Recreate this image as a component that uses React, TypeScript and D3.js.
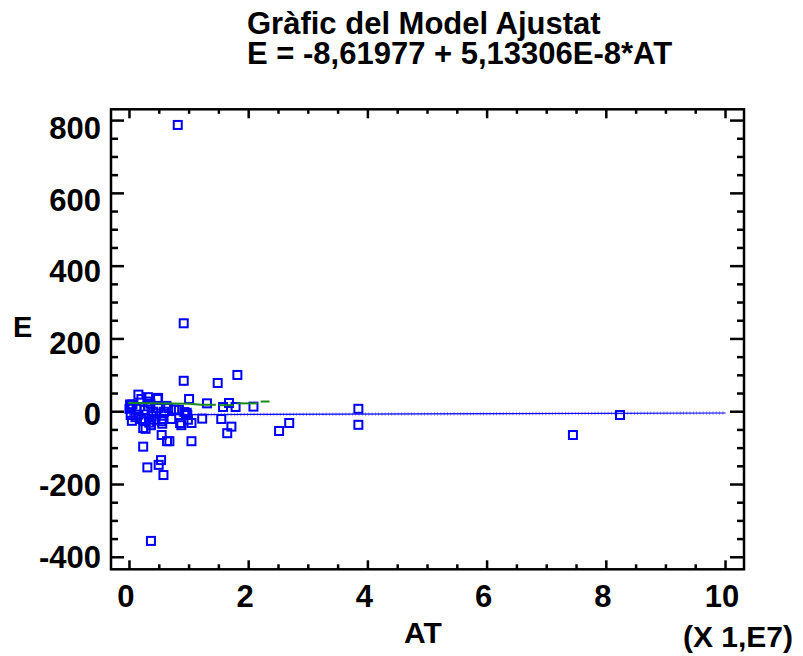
import React from "react";
import * as d3 from "d3";

// ---- data (AT in units of 1e7) ----
const titleLine1 = "Gràfic del Model Ajustat";
const titleLine2 = "E = -8,61977 + 5,13306E-8*AT";
const xLabel = "AT";
const yLabel = "E";
const xScaleNote = "(X 1,E7)";

const atValues = [
  0.81, 0.91, 0.91, 1.48, 1.81, 1.0, 1.3, 1.67, 1.57, 1.78, 2.08, 1.22, 1.54, 1.04, 0.87, 1.71,
  1.64, 2.51, 2.68, 0.54, 0.63, 0.67, 1.04, 0.23, 0.53, 0.3, 0.49, 0.57, 0.36, 3.84, 3.84, 7.44,
  8.23, 0.83, 0.92, 0.95, 0.97, 0.7, 0.55, 0.57, 0.47, 0.31, 0.3, 0.2, 0.05, 0.0, 0.02, 0.04,
  0.62, 0.75, 0.27, 0.36, 0.01, 0.03, 0.15, 0.48, 0.65, 0.96, 0.15, 0.26, 0.37, 0.23, 0.54, 0.85,
  0.98, 0.48, 0.31, 0.4, 0.45, 0.25, 0.35, 0.12, 0.58, 0.42, 0.33, 0.2, 0.1,
];
const eValues = [
  788, 243, 85, 79, 101, 35, 23, 24, 13, 13, 14, -19, -20, -31, -37, -41,
  -59, -53, -31, -64, -81, -81, -81, -96, -133, -153, -146, -174, -355, 8, -36, -64,
  -9, 5, -1, -6, -9, -20, -33, -20, 35, 40, 28, 35, 20, 8, -9, -25,
  16, 6, -47, -37, 20, 15, 47, 38, 10, -3, -8, -26, -12, -45, -26, -31,
  -22, 10, 15, 0, -5, 5, 22, 8, 0, -22, -30, -20, -15,
];

// fitted model (from the title)
const fitIntercept = -8.61977;
const fitSlopePer1e7 = 5.13306e-8 * 1e7;
const fitRange = [0, 10];

// green band pieces (x, y)
const greenPieces = [
  [[-0.02, 24], [1.0, 22], [1.2, 19], [1.45, 19]],
  [[1.5, 18], [1.75, 18]],
  [[1.8, 23], [2.15, 23]],
  [[2.2, 28], [2.35, 28]],
];

const xMajorTicks = [0, 2, 4, 6, 8, 10];
const yMajorTicks = [-400, -200, 0, 200, 400, 600, 800];

export default function App() {
  const left = 111, right = 744, top = 109.3, bottom = 569.3;
  const x = d3.scaleLinear().domain([-0.31, 10.31]).range([left, right]);
  const y = d3.scaleLinear().domain([-433, 831]).range([bottom, top]);
  const yLab = d3.scaleLinear().domain([-400, 800]).range([556.7, 128.3]);

  const xMinor = d3.range(0, 10.001, 0.5);
  const yMinor = d3.range(-400, 800.001, 50);

  const line = d3.line<number[]>().x((d) => x(d[0])).y((d) => y(d[1]));
  const fitPts = fitRange.map((v) => [v, fitIntercept + fitSlopePer1e7 * v]);
  const fitHatch = d3.range(fitRange[0], fitRange[1] + 0.0001, 0.055);

  const font = "'Liberation Sans', Arial, Helvetica, sans-serif";
  const blue = "#0000ff";

  return (
    <svg width={803} height={656} style={{ position: "absolute", left: 0, top: 0, background: "#fff" }}>
      <rect width={803} height={656} fill="#fff" />
      <g fontFamily={font} fontWeight="bold" fill="#000">
        <text x={247} y={33.5} fontSize={31}>{titleLine1}</text>
        <text x={247} y={63.5} fontSize={31}>{titleLine2}</text>
      </g>

      {/* fitted line */}
      <path d={line(fitPts) || ""} stroke={blue} strokeWidth={1.2} fill="none" />
      {fitHatch.map((v, i) => {
        const yy = y(fitIntercept + fitSlopePer1e7 * v);
        return <line key={"h" + i} x1={x(v)} x2={x(v)} y1={yy - 1.8} y2={yy + 1.8} stroke={blue} strokeWidth={0.6} opacity={0.6} />;
      })}

      {/* points */}
      {atValues.map((a, i) => (
        <rect key={"p" + i} x={x(a) - 4} y={y(eValues[i]) - 4} width={8} height={8} fill="none" stroke={blue} strokeWidth={2} />
      ))}

      {/* green band (drawn over the points) */}
      {greenPieces.map((p, i) => (
        <path key={"g" + i} d={line(p as number[][]) || ""} stroke="#1a8a1a" strokeWidth={2} fill="none" />
      ))}

      {/* frame */}
      <rect x={left} y={top} width={right - left} height={bottom - top} fill="none" stroke="#000" strokeWidth={2.5} />

      {/* y ticks */}
      {yMinor.map((v, i) => {
        const major = yMajorTicks.includes(Math.round(v));
        const yy = y(v);
        return (
          <g key={"yt" + i} stroke="#000" strokeWidth={2.5}>
            <line x1={left} x2={left + (major ? 13 : 7)} y1={yy} y2={yy} />
            <line x1={right} x2={right - (major ? 14 : 7)} y1={yy} y2={yy} />
          </g>
        );
      })}
      {/* x ticks */}
      {xMinor.map((v, i) => {
        const major = xMajorTicks.includes(Math.round(v * 10) / 10);
        const xx = x(v);
        return (
          <g key={"xt" + i} stroke="#000" strokeWidth={2.5}>
            <line x1={xx} x2={xx} y1={bottom} y2={bottom - (major ? 9 : 5)} />
            <line x1={xx} x2={xx} y1={top} y2={top + (major ? 9 : 4.5)} />
          </g>
        );
      })}

      <g fontFamily={font} fontWeight="bold" fill="#000" fontSize={31}>
        {yMajorTicks.map((v) => (
          <text key={"yl" + v} x={101} y={yLab(v) + 11} textAnchor="end">{v}</text>
        ))}
        {xMajorTicks.map((v) => (
          <text key={"xl" + v} x={x(v) - 3.5} y={607} textAnchor="middle">{v}</text>
        ))}
        <text x={423} y={643} textAnchor="middle" fontSize={30}>{xLabel}</text>
        <text x={738} y={647} textAnchor="middle" fontSize={30}>{xScaleNote}</text>
        <text x={13} y={337} fontSize={29}>{yLabel}</text>
      </g>
    </svg>
  );
}
